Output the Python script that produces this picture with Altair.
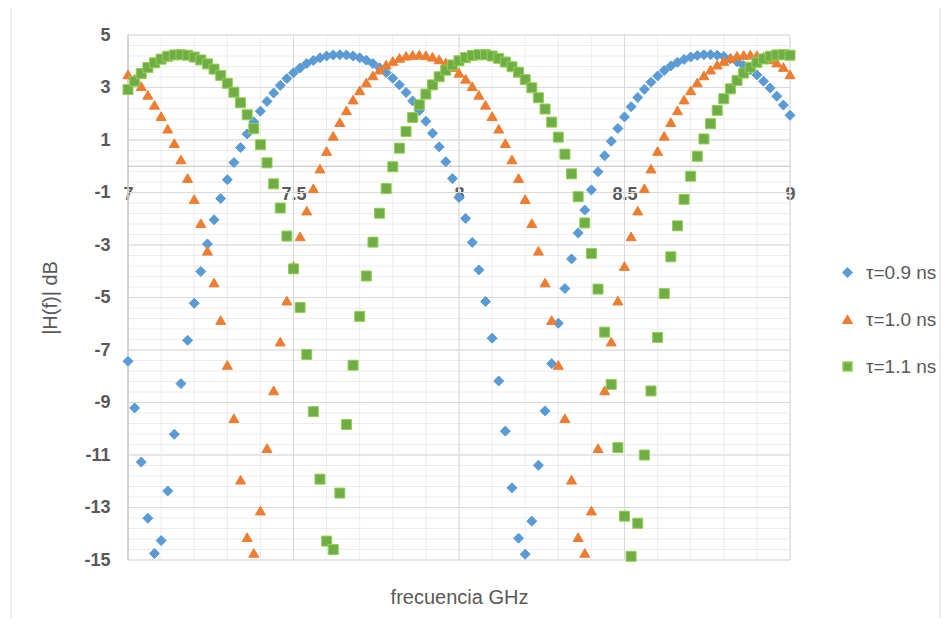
import altair as alt
import pandas as pd

# ---- data ----
freq_ghz = [
    7.00, 7.02, 7.04, 7.06, 7.08, 7.10, 7.12, 7.14, 7.16, 7.18,
    7.20, 7.22, 7.24, 7.26, 7.28, 7.30, 7.32, 7.34, 7.36, 7.38,
    7.40, 7.42, 7.44, 7.46, 7.48, 7.50, 7.52, 7.54, 7.56, 7.58,
    7.60, 7.62, 7.64, 7.66, 7.68, 7.70, 7.72, 7.74, 7.76, 7.78,
    7.80, 7.82, 7.84, 7.86, 7.88, 7.90, 7.92, 7.94, 7.96, 7.98,
    8.00, 8.02, 8.04, 8.06, 8.08, 8.10, 8.12, 8.14, 8.16, 8.18,
    8.20, 8.22, 8.24, 8.26, 8.28, 8.30, 8.32, 8.34, 8.36, 8.38,
    8.40, 8.42, 8.44, 8.46, 8.48, 8.50, 8.52, 8.54, 8.56, 8.58,
    8.60, 8.62, 8.64, 8.66, 8.68, 8.70, 8.72, 8.74, 8.76, 8.78,
    8.80, 8.82, 8.84, 8.86, 8.88, 8.90, 8.92, 8.94, 8.96, 8.98,
    9.00,
]

h_tau09 = [
    -7.43, -9.21, -11.27, -13.41, -14.75, -14.26, -12.37, -10.21, -8.28, -6.63,
    -5.22, -4.01, -2.96, -2.04, -1.23, -0.51, 0.14, 0.71, 1.23, 1.69,
    2.10, 2.47, 2.79, 3.08, 3.34, 3.56, 3.74, 3.91, 4.03, 4.13,
    4.20, 4.24, 4.25, 4.24, 4.20, 4.13, 4.04, 3.91, 3.75, 3.57,
    3.35, 3.10, 2.81, 2.49, 2.12, 1.71, 1.26, 0.74, 0.17, -0.47,
    -1.19, -1.99, -2.90, -3.95, -5.15, -6.55, -8.18, -10.09, -12.25, -14.17,
    -14.78, -13.52, -11.39, -9.32, -7.52, -5.98, -4.66, -3.53, -2.54, -1.67,
    -0.90, -0.21, 0.40, 0.95, 1.44, 1.88, 2.27, 2.62, 2.93, 3.20,
    3.44, 3.65, 3.82, 3.96, 4.07, 4.16, 4.22, 4.25, 4.25, 4.23,
    4.18, 4.09, 3.98, 3.84, 3.68, 3.48, 3.24, 2.98, 2.67, 2.33,
    1.94,
]

h_tau10 = [
    3.50, 3.33, 3.05, 2.72, 2.34, 1.91, 1.43, 0.88, 0.26, -0.45,
    -1.25, -2.17, -3.22, -4.43, -5.86, -7.57, -9.60, -11.94, -14.13, -14.73,
    -13.12, -10.74, -8.54, -6.68, -5.12, -3.80, -2.67, -1.69, -0.84, -0.09,
    0.58, 1.16, 1.68, 2.13, 2.54, 2.89, 3.19, 3.46, 3.68, 3.87,
    4.01, 4.13, 4.21, 4.24, 4.25, 4.23, 4.17, 4.07, 3.95, 3.78,
    3.56, 3.33, 3.05, 2.72, 2.34, 1.91, 1.43, 0.88, 0.26, -0.45,
    -1.25, -2.17, -3.22, -4.43, -5.86, -7.57, -9.60, -11.94, -14.13, -14.73,
    -13.12, -10.74, -8.54, -6.68, -5.12, -3.80, -2.67, -1.69, -0.84, -0.09,
    0.58, 1.16, 1.68, 2.13, 2.54, 2.89, 3.19, 3.46, 3.68, 3.87,
    4.01, 4.13, 4.21, 4.24, 4.25, 4.23, 4.17, 4.07, 3.95, 3.78,
    3.50,
]

h_tau11 = [
    2.92, 3.24, 3.53, 3.76, 3.94, 4.08, 4.19, 4.24, 4.25, 4.23,
    4.16, 4.05, 3.90, 3.70, 3.46, 3.16, 2.82, 2.42, 1.96, 1.43,
    0.82, 0.13, -0.67, -1.59, -2.66, -3.91, -5.38, -7.17, -9.35, -11.92,
    -14.28, -14.60, -12.45, -9.84, -7.58, -5.72, -4.18, -2.89, -1.79, -0.85,
    -0.02, 0.69, 1.32, 1.86, 2.34, 2.75, 3.10, 3.41, 3.66, 3.86,
    4.02, 4.14, 4.22, 4.25, 4.25, 4.20, 4.11, 3.97, 3.79, 3.58,
    3.30, 2.99, 2.61, 2.18, 1.68, 1.11, 0.46, -0.29, -1.16, -2.16,
    -3.32, -4.68, -6.32, -8.31, -10.72, -13.33, -14.86, -13.60, -11.00, -8.56,
    -6.52, -4.85, -3.45, -2.27, -1.26, -0.38, 0.38, 1.04, 1.62, 2.13,
    2.57, 2.95, 3.27, 3.55, 3.77, 3.96, 4.09, 4.19, 4.24, 4.25,
    4.23,
]

series_names = ["τ=0.9 ns", "τ=1.0 ns", "τ=1.1 ns"]

x_ticks = [7, 7.5, 8, 8.5, 9]
y_ticks = [-15, -13, -11, -9, -7, -5, -3, -1, 1, 3, 5]
x_minor = [round(7 + 0.1 * k, 1) for k in range(21)]
y_minor = [round(-15 + 0.4 * k, 1) for k in range(51)]

# ---- build table ----
rows = []
for name, vals in zip(series_names, [h_tau09, h_tau10, h_tau11]):
    for f, v in zip(freq_ghz, vals):
        rows.append({"f": f, "h": v, "serie": name})
df = pd.DataFrame(rows)

FONT = "Liberation Sans"
TXT = "#595959"
W, H = 662, 525

xs = alt.Scale(domain=[7, 9], nice=False, zero=False)
ys = alt.Scale(domain=[-15, 5], nice=False, zero=False)

minor_v = alt.Chart(pd.DataFrame({"v": x_minor})).mark_rule(
    color="#ececec", strokeWidth=1
).encode(x=alt.X("v:Q", scale=xs, axis=None))

minor_h = alt.Chart(pd.DataFrame({"v": y_minor})).mark_rule(
    color="#ececec", strokeWidth=1
).encode(y=alt.Y("v:Q", scale=ys, axis=None))

major_v = alt.Chart(pd.DataFrame({"v": x_ticks})).mark_rule(
    color="#d9d9d9", strokeWidth=1
).encode(x=alt.X("v:Q", scale=xs, axis=None))

major_h = alt.Chart(pd.DataFrame({"v": y_ticks})).mark_rule(
    color="#d9d9d9", strokeWidth=1
).encode(y=alt.Y("v:Q", scale=ys, axis=None))

axis_h = alt.Chart(pd.DataFrame({"v": [0]})).mark_rule(
    color="#bfbfbf", strokeWidth=1
).encode(y=alt.Y("v:Q", scale=ys, axis=None))

axis_v = alt.Chart(pd.DataFrame({"v": [7]})).mark_rule(
    color="#bfbfbf", strokeWidth=1
).encode(x=alt.X("v:Q", scale=xs, axis=None))

frame_l = alt.Chart(pd.DataFrame({"k": [0]})).mark_rule(
    color="#d9d9d9", strokeWidth=1
).encode(x=alt.value(-117), y=alt.value(-35), y2=alt.value(583))

frame_r = alt.Chart(pd.DataFrame({"k": [0]})).mark_rule(
    color="#d9d9d9", strokeWidth=1
).encode(x=alt.value(812), y=alt.value(-35), y2=alt.value(583))

legend = alt.Legend(
    title=None,
    orient="none",
    legendX=710,
    legendY=228,
    labelFont=FONT,
    labelFontSize=19,
    labelColor=TXT,
    symbolSize=80,
    rowPadding=27,
    labelOffset=9,
)

points = alt.Chart(df).mark_point(
    filled=True, size=100, opacity=1, strokeWidth=1
).encode(
    x=alt.X(
        "f:Q",
        scale=xs,
        axis=alt.Axis(
            orient="bottom",
            values=x_ticks,
            labelExpr="'' + datum.value",
            title="frecuencia GHz",
            offset=-393.75,
            domain=False,
            ticks=False,
            grid=False,
            labelFont=FONT,
            labelFontSize=18,
            labelFontWeight="bold",
            labelColor=TXT,
            labelPadding=19,
            labelFlush=False,
            labelOverlap=False,
            titleFont=FONT,
            titleFontSize=20,
            titleFontWeight="normal",
            titleColor=TXT,
            titleY=430.75,
            titleBaseline="middle",
        ),
    ),
    y=alt.Y(
        "h:Q",
        scale=ys,
        axis=alt.Axis(
            orient="left",
            values=y_ticks,
            labelExpr="'' + datum.value",
            title="|H(f)| dB",
            domain=False,
            ticks=False,
            grid=False,
            labelFont=FONT,
            labelFontSize=18,
            labelFontWeight="bold",
            labelColor=TXT,
            labelPadding=18,
            labelOverlap=False,
            titleFont=FONT,
            titleFontSize=20,
            titleFontWeight="normal",
            titleColor=TXT,
            titleX=-78,
            titleY=262.5,
            titleBaseline="middle",
        ),
    ),
    fill=alt.Fill(
        "serie:N",
        scale=alt.Scale(domain=series_names, range=["#5B9BD5", "#ED7D31", "#70AD47"]),
        legend=legend,
    ),
    shape=alt.Shape(
        "serie:N",
        scale=alt.Scale(domain=series_names, range=["diamond", "triangle-up", "square"]),
        legend=legend,
    ),
    stroke=alt.Stroke(
        "serie:N",
        scale=alt.Scale(domain=series_names, range=["#5B9BD5", "#ED7D31", "#92D050"]),
        legend=None,
    ),
)

chart = alt.layer(
    minor_v, minor_h, major_v, major_h, axis_h, axis_v, frame_l, frame_r, points
).resolve_axis(
    x="independent", y="independent"
).properties(
    width=W,
    height=H,
    padding={"left": 120, "top": 27, "right": 152, "bottom": 58},
    autosize=alt.AutoSizeParams(type="none"),
).configure_view(stroke=None)

chart.save("out.html", embed_options={"renderer": "svg", "actions": False})
